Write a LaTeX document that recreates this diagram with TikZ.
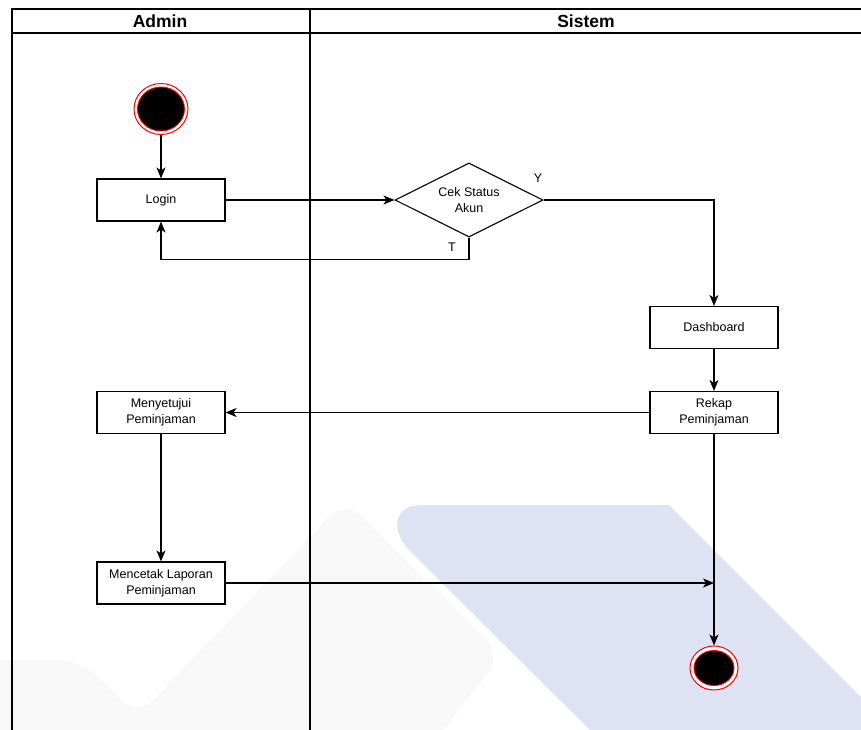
\documentclass[tikz,border=0pt]{standalone}
\usepackage{fontspec}
\setmainfont{Liberation Sans}
\usetikzlibrary{arrows.meta,shapes.geometric}

\definecolor{wmblue}{RGB}{221,227,242}
\definecolor{wmgray}{RGB}{248,248,248}

\begin{document}
\begin{tikzpicture}[x=1pt,y=-1pt,
  lane/.style={line width=1.2pt},
  lanetitle/.style={font=\fontsize{17.5}{20}\selectfont\bfseries},
  act/.style={draw, line width=1.1pt, fill=white, minimum width=128pt,
    minimum height=42pt, inner sep=0pt, align=center,
    font=\fontsize{12.5}{16}\selectfont},
  decide/.style={draw, diamond, line width=1.1pt, fill=white, aspect=2,
    minimum width=148pt, minimum height=74pt, inner sep=0pt, align=center,
    font=\fontsize{12.5}{16}\selectfont},
  guard/.style={font=\fontsize{12.5}{15}\selectfont},
  ring/.style={ellipse, draw=red, line width=1pt, fill=white, inner sep=0pt},
  dot/.style={ellipse, draw=red, line width=0.9pt, fill=black, inner sep=0pt},
  flow/.style={line width=1.1pt, -{Stealth[length=11pt,width=9pt,inset=3pt]}}]

\useasboundingbox (0,0) rectangle (861,729);
\clip (0,0) rectangle (861,729);

% faint background shapes
\fill[wmgray, rounded corners=22pt] (-30,660) -- (80,660) -- (138,716)
  -- (345,500) -- (502,655) -- (432,745) -- (-30,745) -- cycle;
\fill[wmblue] (669,505) -- (910,746) -- (606,746) -- (410,551)
  .. controls (391,532) and (392,505) .. (422,505) -- cycle;

% swimlanes
\draw[lane] (12,740) -- (12,9) -- (880,9);
\draw[lane] (12,33) -- (880,33);
\draw[lane] (310,9) -- (310,740);
\node[lanetitle] (adminT) at (160,21) {Admin};
\node[lanetitle] (sistemT) at (586,21) {Sistem};

% start state
\node[ring, minimum width=54pt, minimum height=51pt] (start) at (161,109) {};
\node[dot, minimum width=47pt, minimum height=44pt] (startdot) at (161,109) {};

% activities
\node[act] (login) at (161,200) {Login};
\node[decide] (cek) at (469,200) {Cek Status\\Akun};
\node[act] (dash) at (714,327.5) {Dashboard};
\node[act] (rekap) at (714,412.5) {Rekap\\Peminjaman};
\node[act] (setuju) at (161,412.5) {Menyetujui\\Peminjaman};
\node[act] (cetak) at (161,583) {Mencetak Laporan\\Peminjaman};

% end state
\node[ring, minimum width=48pt, minimum height=44pt] (finish) at (714,668) {};
\node[dot, minimum width=40pt, minimum height=35pt] (finishdot) at (714,668) {};

\coordinate (join) at (714,583);

% connectors
\draw[flow] (start) -- (login);
\draw[flow] (login) -- (cek);
\draw[flow] (cek.east) -| (dash.north);
\draw[flow] (cek.south) -- ++(0,22) -| (login.south);
\draw[flow] (dash) -- (rekap);
\draw[flow] (rekap) -- (setuju);
\draw[flow] (setuju) -- (cetak);
\draw[flow] (rekap) -- (finish);
\draw[flow] (cetak.east) -- (join);

% guards
\node[guard] (yes) at (538,178) {Y};
\node[guard] (no) at (452,247) {T};
\end{tikzpicture}
\end{document}
